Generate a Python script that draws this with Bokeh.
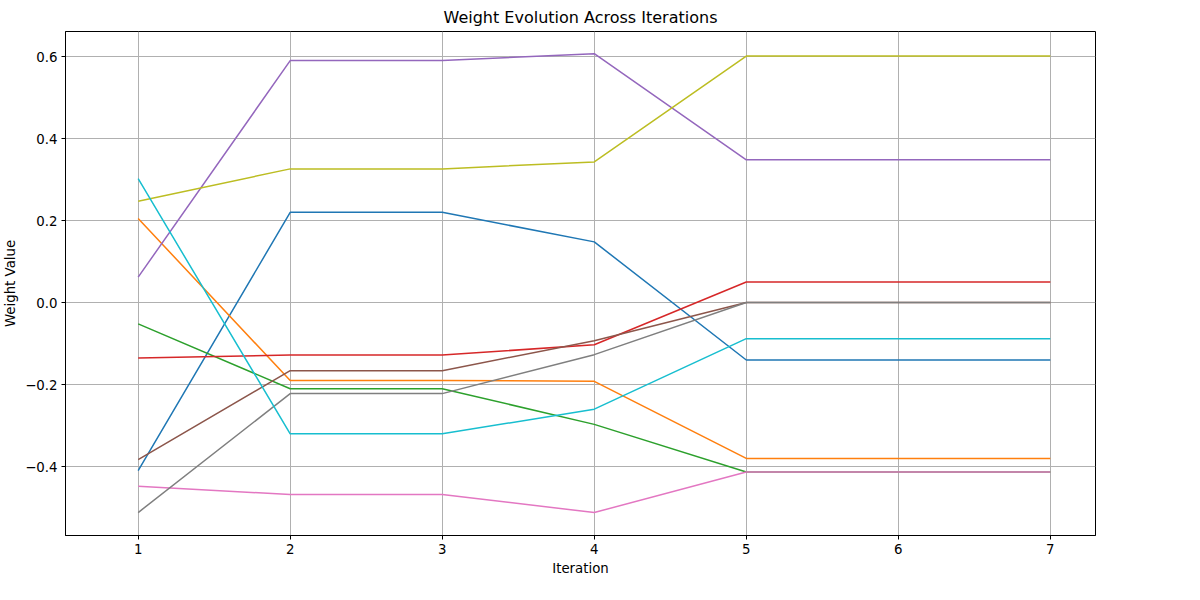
from bokeh.embed import file_html
from bokeh.resources import INLINE
from bokeh.models import Legend, LegendItem, Range1d, FixedTicker
from bokeh.plotting import figure

iterations = [1, 2, 3, 4, 5, 6, 7]
w1 = [-0.41, 0.22, 0.22, 0.148, -0.14, -0.14, -0.14]
w2 = [0.205, -0.19, -0.19, -0.192, -0.38, -0.38, -0.38]
w3 = [-0.052, -0.21, -0.21, -0.297, -0.413, -0.413, -0.413]
w4 = [-0.135, -0.128, -0.128, -0.103, 0.05, 0.05, 0.05]
w5 = [0.062, 0.59, 0.59, 0.607, 0.348, 0.348, 0.348]
w6 = [-0.383, -0.166, -0.166, -0.093, 0.0, 0.0, 0.0]
w7 = [-0.448, -0.468, -0.468, -0.512, -0.413, -0.413, -0.413]
w8 = [-0.512, -0.222, -0.222, -0.127, 0.0, 0.0, 0.0]
w9 = [0.247, 0.326, 0.326, 0.343, 0.601, 0.601, 0.601]
w10 = [0.302, -0.32, -0.32, -0.26, -0.088, -0.088, -0.088]

series = [("w1", w1), ("w2", w2), ("w3", w3), ("w4", w4), ("w5", w5),
          ("w6", w6), ("w7", w7), ("w8", w8), ("w9", w9), ("w10", w10)]
colors = ["#1f77b4", "#ff7f0e", "#2ca02c", "#d62728", "#9467bd",
          "#8c564b", "#e377c2", "#7f7f7f", "#bcbd22", "#17becf"]

FONT = "DejaVu Sans"

p = figure(frame_width=1030, frame_height=504, output_backend="svg",
           toolbar_location=None,
           x_range=Range1d(0.522, 7.297), y_range=Range1d(-0.568, 0.661),
           min_border_left=10, min_border_right=4, min_border_top=30,
           min_border_bottom=40)
p.title.text = "Weight Evolution Across Iterations"
p.title.align = "center"
p.title.text_font = FONT
p.title.text_font_size = "12pt"
p.title.text_font_style = "normal"
p.title.text_color = "black"
p.outline_line_color = "black"

p.xaxis.ticker = FixedTicker(ticks=iterations)
p.yaxis.ticker = FixedTicker(ticks=[-0.4, -0.2, 0.0, 0.2, 0.4, 0.6])
p.yaxis.major_label_overrides = {0.0: "0.0"}
p.xaxis.axis_label = "Iteration"
p.yaxis.axis_label = "Weight Value"
for ax in (p.xaxis, p.yaxis):
    ax.axis_label_text_font = FONT
    ax.axis_label_text_font_style = "normal"
    ax.axis_label_text_font_size = "10pt"
    ax.axis_label_text_color = "black"
    ax.axis_label_standoff = 4
    ax.major_label_text_font = FONT
    ax.major_label_text_font_size = "10pt"
    ax.major_label_text_color = "black"
    ax.major_label_standoff = 4
    ax.minor_tick_line_color = None
    ax.major_tick_in = 0
    ax.major_tick_out = 4
p.grid.grid_line_color = "#b0b0b0"
p.grid.grid_line_alpha = 1.0

items = []
for (name, vals), c in zip(series, colors):
    r = p.line(iterations, vals, line_color=c, line_width=1.5)
    items.append(LegendItem(label=name, renderers=[r]))

legend = Legend(items=items, location="center", label_text_font=FONT,
                label_text_font_size="10pt", border_line_color="#cccccc",
                spacing=0, padding=6, label_height=16, glyph_height=16,
                glyph_width=24, margin=8)
p.add_layout(legend, "right")

open("out.html", "w").write(file_html(p, INLINE))
